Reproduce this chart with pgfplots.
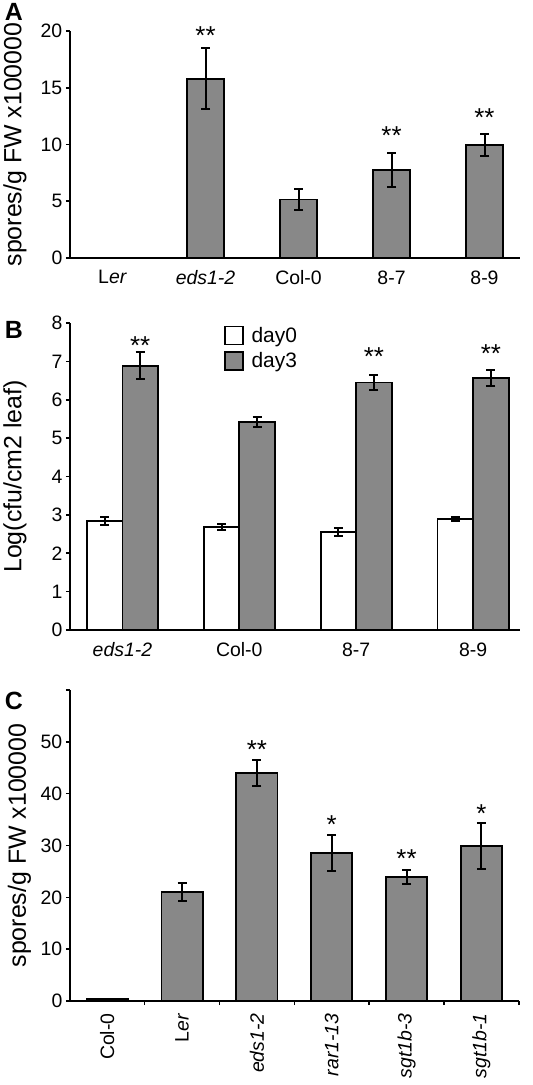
\documentclass[border=0pt]{standalone}
\usepackage{pgfplots}
\pgfplotsset{compat=1.18}
\usepackage{fontspec}
\setmainfont{Liberation Sans}
\definecolor{barg}{RGB}{136,136,136}
\tikzset{sig/.style={font=\fontsize{26}{26}\selectfont, anchor=base, inner sep=0pt}}
\pgfplotsset{
  panel/.style={
    scale only axis,
    font=\fontsize{19.5}{22}\selectfont,
    axis lines*=left,
    axis line style={line width=2bp, black},
    /pgf/number format/assume math mode=true,
    tick style={line width=1.6bp, black},
    tick align=outside,
    major tick length=4bp,
    minor tick length=4bp,
    ytick pos=left,
    xtick pos=bottom,
    major x tick style={draw=none},
    x tick label style={yshift=-5bp},
    ylabel style={font=\fontsize{25}{27}\selectfont, anchor=center},
    clip=false,
  },
  boxlegend/.style={legend image code/.code={%
    \draw[##1,/tikz/.cd,line width=1.8bp] (0bp,-9bp) rectangle (18bp,9bp);}},
  barstyle/.style={fill=barg, draw=black, line width=1.8bp,
    error bars/.cd, y dir=both, y explicit,
    error bar style={line width=2bp, black},
    error mark options={rotate=90, line width=2bp, mark size=4.5bp, black},
    /pgfplots/.cd},
  whitebar/.style={fill=white, draw=black, line width=1.8bp,
    error bars/.cd, y dir=both, y explicit,
    error bar style={line width=2bp, black},
    error mark options={rotate=90, line width=2bp, mark size=4.5bp, black},
    /pgfplots/.cd},
}
\begin{document}
\begin{tikzpicture}
\path (0bp,0bp) rectangle (531bp,-1085bp);
\node[font=\fontsize{25}{25}\selectfont\bfseries] at (12bp,-12bp) {A};
\node[font=\fontsize{25}{25}\selectfont\bfseries] at (12bp,-330bp) {B};
\node[font=\fontsize{25}{25}\selectfont\bfseries] at (12bp,-701bp) {C};

% Panel A
\begin{axis}[panel, at={(68bp,-258bp)}, anchor=south west,
  width=450bp, height=227bp,
  ymin=0, ymax=20, ytick={0,5,10,15,20},
  xmin=-0.46, xmax=4.38, xtick={0,1,2,3,4},
  xticklabels={L\textit{er}, \textit{eds1-2}, Col-0, 8-7, 8-9},
  ylabel={spores/g FW x100000},
  ylabel style={at={(axis description cs:-0.122,0.5)}},
  ybar, bar width=0.4]
\addplot[barstyle] table[x=x, y=y, y error=e] {
x y e
1 15.8 2.7
2 5.15 0.9
3 7.75 1.5
4 9.98 0.95
};
\node[sig] at (axis cs:1,18.85) {**};
\node[sig] at (axis cs:3,10.04) {**};
\node[sig] at (axis cs:4,11.63) {**};
\end{axis}

% Panel B
\begin{axis}[panel, at={(68bp,-630bp)}, anchor=south west,
  width=450bp, height=307bp,
  ymin=0, ymax=8, ytick={0,1,2,3,4,5,6,7,8},
  xmin=-0.45, xmax=3.40, xtick={0,1,2,3},
  xticklabels={\textit{eds1-2}, Col-0, 8-7, 8-9},
  ylabel={Log(cfu/cm2 leaf)},
  ylabel style={at={(axis description cs:-0.122,0.5)}},
  ybar, bar width=0.304,
  legend style={at={(0.335,1.0)}, anchor=north west, draw=none, fill=none,
    font=\fontsize{21}{23}\selectfont, row sep=5bp, column sep=6bp},
  legend cell align=left]
\addplot[bar shift=-0.152, boxlegend, whitebar]
  table[x=x, y=y, y error=e] {
x y e
0 2.84 0.10
1 2.69 0.08
2 2.55 0.11
3 2.89 0.06
};
\addlegendentry{day0}
\addplot[bar shift=0.152, boxlegend, barstyle]
  table[x=x, y=y, y error=e] {
x y e
0 6.89 0.35
1 5.42 0.12
2 6.45 0.20
3 6.57 0.20
};
\addlegendentry{day3}
\node[sig] at (axis cs:0.152,7.19) {**};
\node[sig] at (axis cs:2.152,6.88) {**};
\node[sig] at (axis cs:3.152,6.96) {**};
\end{axis}

% Panel C
\begin{axis}[panel, at={(68bp,-1001bp)}, anchor=south west,
  width=449bp, height=311bp,
  ymin=0, ymax=60, ytick={0,10,20,30,40,50,60},
  yticklabels={0,10,20,30,40,50,{}},
  xmin=-0.5, xmax=5.5, xtick={0,1,2,3,4,5},
  minor xtick={0.5,1.5,2.5,3.5,4.5,5.5},
  xticklabels={Col-0, L\textit{er}, \textit{eds1-2}, \textit{rar1-13}, \textit{sgt1b-3}, \textit{sgt1b-1}},
  x tick label style={rotate=90, anchor=east},
  ylabel={spores/g FW x100000},
  ylabel style={at={(axis description cs:-0.112,0.5)}},
  ybar, bar width=0.55]
\addplot[barstyle] table[x=x, y=y, y error=e] {
x y e
0 0.4 0.0
1 21.0 1.7
2 44.0 2.55
3 28.6 3.5
4 24.0 1.35
5 29.9 4.5
};
\node[sig] at (axis cs:2,46.7) {**};
\node[sig] at (axis cs:3,32.4) {*};
\node[sig] at (axis cs:4,25.8) {**};
\node[sig] at (axis cs:5,34.5) {*};
\end{axis}
\end{tikzpicture}
\end{document}
